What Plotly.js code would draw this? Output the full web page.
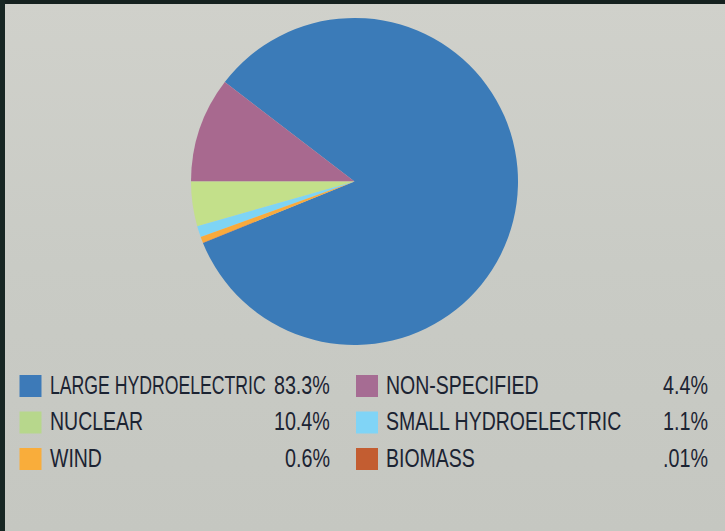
<!DOCTYPE html>
<html>
<head>
<meta charset="utf-8">
<script src="https://cdn.plot.ly/plotly-3.0.1.min.js"></script>
<style>
  html, body { margin: 0; padding: 0; }
  #chart { width: 725px; height: 531px; background: linear-gradient(#d0d1cb, #c9cbc5 50%, #c5c7c1); }
</style>
</head>
<body>
<div id="chart"></div>
<script>
// Data
var categories = ['LARGE HYDROELECTRIC', 'NUCLEAR', 'WIND', 'NON-SPECIFIED', 'SMALL HYDROELECTRIC', 'BIOMASS'];
var shares = [83.3, 10.4, 0.6, 4.4, 1.1, 0.01];
var shareLabels = ['83.3%', '10.4%', '0.6%', '4.4%', '1.1%', '.01%'];
var legendColors = ['#3d7ab8', '#b7d78c', '#f9ad3b', '#a66c93', '#80d4f6', '#c35d31'];
// colours of the slices as drawn in the pie (the pie in the reference swaps nuclear / non-specified)
var sliceColors = ['#3b7bb8', '#a8698f', '#f9aa3c', '#c3e08a', '#7ed4f5', '#c45a30'];
// order of slices around the pie
var pieOrder = [0, 1, 3, 4, 2, 5];

var pieLabels = pieOrder.map(function (i) { return categories[i]; });
var pieValues = pieOrder.map(function (i) { return shares[i]; });
var pieColors = pieOrder.map(function (i) { return sliceColors[i]; });

var W = 725, H = 531;
function px(x) { return x / W; }
function py(y) { return 1 - y / H; }

var trace = {
  type: 'pie',
  labels: pieLabels,
  values: pieValues,
  sort: false,
  direction: 'counterclockwise',
  rotation: -52.5,
  textinfo: 'none',
  hoverinfo: 'label+percent',
  marker: { colors: pieColors, line: { width: 0 } },
  domain: { x: [px(191), px(518)], y: [py(345), py(18)] },
  showlegend: false
};

var fontFam = '"Liberation Sans", Arial, sans-serif';
var fontSize = 25;
var textColor = '#1b2332';
var colX = [{ sq: 19.5, txt: 48, pct: 332 }, { sq: 356, txt: 384, pct: 710 }];
var rowY = [386, 422.5, 459];

var shapes = [
  { type: 'rect', xref: 'paper', yref: 'paper', x0: 0, x1: 1, y0: py(4), y1: 1, fillcolor: '#15211f', line: { width: 0 } },
  { type: 'rect', xref: 'paper', yref: 'paper', x0: 0, x1: px(5), y0: 0, y1: 1, fillcolor: '#172623', line: { width: 0 } }
];
var annotations = [];
categories.forEach(function (c, i) {
  var col = colX[i < 3 ? 0 : 1];
  var y = rowY[i % 3];
  shapes.push({ type: 'rect', xref: 'paper', yref: 'paper', x0: px(col.sq), x1: px(col.sq + 22), y0: py(y + 11), y1: py(y - 11), fillcolor: legendColors[i], line: { width: 0 } });
  annotations.push({ xref: 'paper', yref: 'paper', x: px(col.txt), y: py(y - 1.5), xanchor: 'left', yanchor: 'middle', align: 'left', text: c, showarrow: false, font: { family: fontFam, size: fontSize, color: textColor } });
  annotations.push({ xref: 'paper', yref: 'paper', x: px(col.pct), y: py(y - 1.5), xanchor: 'right', yanchor: 'middle', align: 'right', text: shareLabels[i], showarrow: false, font: { family: fontFam, size: fontSize, color: textColor } });
});

var layout = {
  width: W, height: H,
  margin: { l: 0, r: 0, t: 0, b: 0 },
  paper_bgcolor: 'rgba(0,0,0,0)',
  plot_bgcolor: 'rgba(0,0,0,0)',
  shapes: shapes,
  annotations: annotations,
  showlegend: false
};

// squeeze a text horizontally about its anchor point (condensed face of the reference)
function condense(g, t, k, rightAligned) {
  var oldW = t.getComputedTextLength();
  var newW = oldW * k;
  var ax = parseFloat(t.getAttribute('x')) || 0;
  t.setAttribute('transform', 'matrix(' + k + ',0,0,1,' + (ax * (1 - k)) + ',0)');
  var rect = g.querySelector('rect.bg');
  if (rect) {
    var rw = parseFloat(rect.getAttribute('width')) || 0;
    var rx = parseFloat(rect.getAttribute('x')) || 0;
    var d = oldW - newW;
    rect.setAttribute('width', Math.max(0, rw - d));
    if (rightAligned) rect.setAttribute('x', rx + d);
  }
}

Plotly.newPlot('chart', [trace], layout, { displayModeBar: false, staticPlot: true }).then(function (gd) {
  var groups = gd.querySelectorAll('g.annotation');
  var items = [];
  groups.forEach(function (g) {
    var idx = +g.getAttribute('data-index');
    var t = g.querySelector('text.annotation-text');
    if (t) items[idx] = { g: g, t: t };
  });
  var labelK = 0.78, pctK = 0.79, gap = 12;
  categories.forEach(function (c, i) {
    var lab = items[2 * i], pct = items[2 * i + 1];
    var col = colX[i < 3 ? 0 : 1];
    var pw = pct.t.getComputedTextLength() * pctK;
    var lw0 = lab.t.getComputedTextLength();
    var lk = labelK;
    var maxW = (col.pct - pw) - gap - col.txt;
    if (lw0 * lk > maxW) lk = maxW / lw0;
    condense(pct.g, pct.t, pctK, true);
    condense(lab.g, lab.t, lk, false);
  });
});
</script>
</body>
</html>
